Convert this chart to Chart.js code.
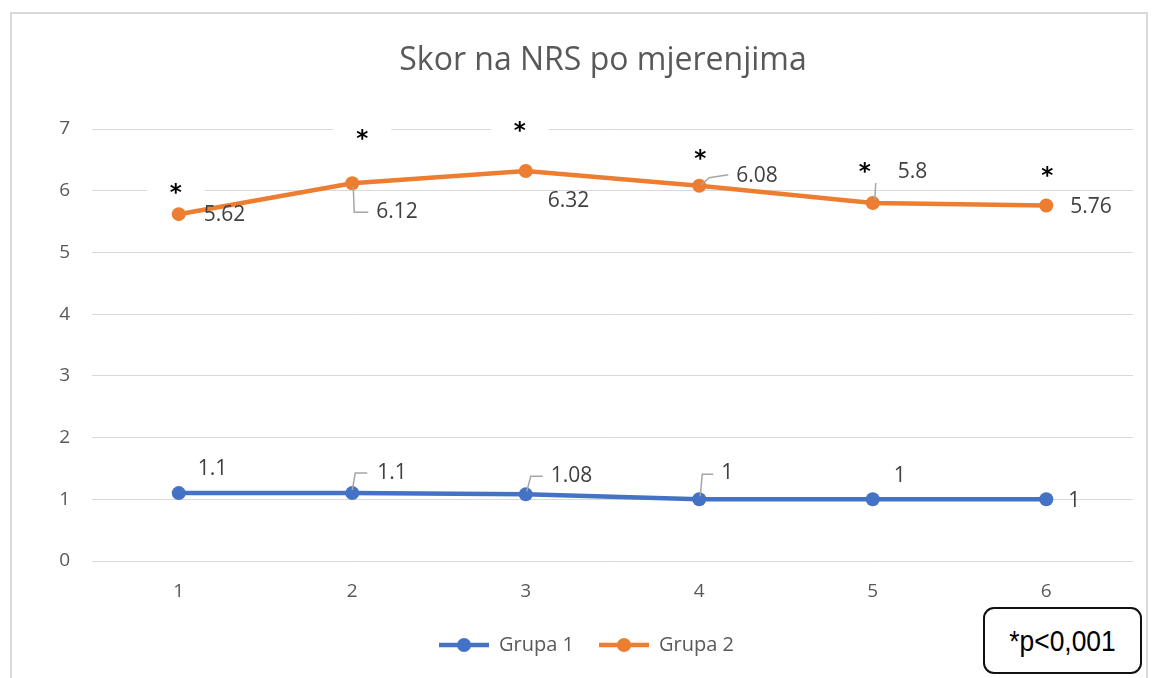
<!DOCTYPE html>
<html><head><meta charset="utf-8">
<script src="https://cdn.jsdelivr.net/npm/chart.js@4/dist/chart.umd.min.js"></script>
<style>
html,body{margin:0;padding:0;background:#fff;}
#wrap{position:relative;width:1154px;height:678px;overflow:hidden;}
#frame{position:absolute;left:10px;top:12px;width:1138px;height:720px;border:2px solid #d9d9d9;box-sizing:border-box;}
canvas{position:absolute;left:0;top:0;}
#note{position:absolute;left:983px;top:607px;width:159px;height:67px;box-sizing:border-box;border:2px solid #111;border-radius:11px;display:flex;align-items:center;justify-content:center;color:#000;background:#fff;}
#note span{display:inline-block;font:30px 'Liberation Sans',sans-serif;transform:scaleX(0.88);white-space:nowrap;}
</style></head><body>
<div id="wrap"><div id="frame"></div><canvas id="c" width="1154" height="678"></canvas><div id="note"><span>*p&lt;0,001</span></div></div>
<script>
// ---- data ----
const categories = ['1', '2', '3', '4', '5', '6'];
const grupa1 = [1.1, 1.1, 1.08, 1, 1, 1];
const grupa2 = [5.62, 6.12, 6.32, 6.08, 5.8, 5.76];
const yTickValues = [0, 1, 2, 3, 4, 5, 6, 7];
const significance = ['*', '*', '*', '*', '*', '*'];
const seriesNames = ['Grupa 1', 'Grupa 2'];

// ---- label placement styles (offsets from each point, in px) ----
const labelPlace1 = [
  {dx: 19, dy: -24},
  {dx: 25, dy: -20, leader: [[0, -3], [3, -20], [15, -20]]},
  {dx: 25, dy: -18, leader: [[1, -3], [5, -18], [17, -18]]},
  {dx: 22, dy: -26, leader: [[1, -3], [3, -25], [14, -25]]},
  {dx: 21, dy: -23},
  {dx: 22, dy: 2}
];
const labelPlace2 = [
  {dx: 25, dy: 1},
  {dx: 24, dy: 29, leader: [[1, 3], [2, 29], [16, 29]]},
  {dx: 22, dy: 30},
  {dx: 37, dy: -10, leader: [[2, -1], [10, -8], [29, -11]]},
  {dx: 25, dy: -31, leader: [[2, -3], [3, -20]]},
  {dx: 24, dy: 1}
];
const starPlace = [
  {dx: -3, dy: -25}, {dx: 10, dy: -48}, {dx: -6, dy: -44},
  {dx: 1, dy: -31}, {dx: -8, dy: -35}, {dx: 1, dy: -33}
];

const BLUE = '#4472C4', ORANGE = '#ED7D31';
const FONT = "'Open Sans', sans-serif";

function legendIcon(color) {
  const c = document.createElement('canvas');
  c.width = 50; c.height = 16;
  const g = c.getContext('2d');
  g.strokeStyle = color; g.lineWidth = 4.5;
  g.beginPath(); g.moveTo(0, 8); g.lineTo(50, 8); g.stroke();
  g.fillStyle = color;
  g.beginPath(); g.arc(25, 8, 7, 0, Math.PI * 2); g.fill();
  return c;
}
const icons = [legendIcon(BLUE), legendIcon(ORANGE)];

const annotPlugin = {
  id: 'annot',
  afterLayout(chart) {
    // title is centred over the plotting region plus the axis gutter, as in the source
    if (chart.titleBlock) chart.titleBlock.left = 73;
  },
  beforeDatasetsDraw(chart) {
    const ctx = chart.ctx;
    const meta = chart.getDatasetMeta(1);
    ctx.save();
    meta.data.forEach((pt, i) => {
      const x = pt.x + starPlace[i].dx, y = pt.y + starPlace[i].dy;
      ctx.fillStyle = '#ffffff';
      ctx.fillRect(x - 29, y - 14, 58, 28);
      ctx.fillStyle = '#000';
      ctx.font = "bold 23px 'DejaVu Sans'";
      ctx.textAlign = 'center';
      ctx.textBaseline = 'middle';
      ctx.fillText(significance[i], x, y + 5);
    });
    ctx.restore();
  },
  afterDatasetsDraw(chart) {
    const ctx = chart.ctx;
    const sets = [[grupa1, labelPlace1], [grupa2, labelPlace2]];
    ctx.save();
    sets.forEach(([vals, places], di) => {
      const meta = chart.getDatasetMeta(di);
      meta.data.forEach((pt, i) => {
        const p = places[i];
        if (p.leader) {
          ctx.strokeStyle = '#a6a6a6';
          ctx.lineWidth = 1.5;
          ctx.beginPath();
          p.leader.forEach(([lx, ly], k) => {
            if (k === 0) ctx.moveTo(pt.x + lx, pt.y + ly); else ctx.lineTo(pt.x + lx, pt.y + ly);
          });
          ctx.stroke();
        }
        ctx.fillStyle = '#404040';
        ctx.font = '21px ' + FONT;
        ctx.textAlign = 'left';
        ctx.textBaseline = 'middle';
        ctx.fillText(String(vals[i]), pt.x + p.dx, pt.y + p.dy);
      });
    });
    ctx.restore();
  }
};

new Chart(document.getElementById('c'), {
  type: 'line',
  data: {
    labels: categories,
    datasets: [
      {label: seriesNames[0], data: grupa1, borderColor: BLUE, backgroundColor: BLUE,
       borderWidth: 4.5, pointRadius: 7, pointBackgroundColor: BLUE, pointBorderWidth: 0, tension: 0},
      {label: seriesNames[1], data: grupa2, borderColor: ORANGE, backgroundColor: ORANGE,
       borderWidth: 4.5, pointRadius: 7, pointBackgroundColor: ORANGE, pointBorderWidth: 0, tension: 0}
    ]
  },
  options: {
    responsive: false,
    animation: false,
    devicePixelRatio: 1,
    layout: {padding: {left: 40, right: 21, top: 0, bottom: 13}},
    scales: {
      x: {
        offset: true,
        grid: {display: false, drawTicks: false},
        border: {display: false},
        ticks: {color: '#595959', font: {size: 19, family: FONT}, padding: 19.6},
        afterFit(s) { s.height = 49; }
      },
      y: {
        min: 0, max: 7,
        afterBuildTicks(s) { s.ticks = yTickValues.map(v => ({value: v})); },
        grid: {color: '#d9d9d9', lineWidth: 1, drawTicks: false},
        border: {display: false},
        ticks: {color: '#595959', font: {size: 19, family: FONT}, padding: 22},
        afterFit(s) { s.width = 52; }
      }
    },
    plugins: {
      title: {display: true, text: 'Skor na NRS po mjerenjima', color: '#595959',
        font: {size: 32, family: FONT, weight: 'normal'}, padding: {top: 42, bottom: 48.6}},
      legend: {
        position: 'bottom',
        labels: {
          usePointStyle: true, pointStyleWidth: 50, padding: 25, color: '#595959',
          font: {size: 20, family: FONT},
          generateLabels(chart) {
            const items = Chart.defaults.plugins.legend.labels.generateLabels(chart);
            items.forEach((it, i) => { it.pointStyle = icons[i]; });
            return items;
          }
        }
      },
      tooltip: {enabled: false}
    }
  },
  plugins: [annotPlugin]
});
</script>
</body></html>
